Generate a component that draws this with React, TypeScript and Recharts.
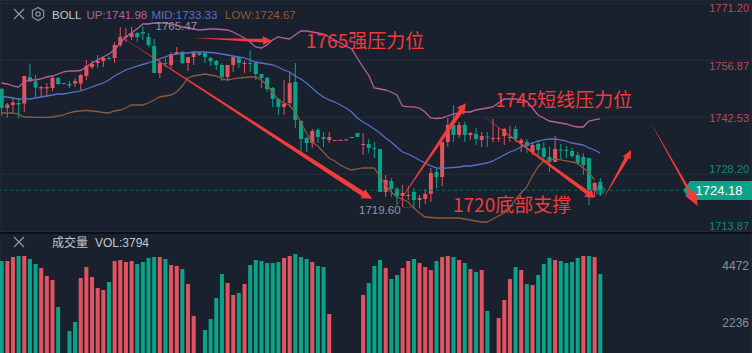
import { Bar, CartesianGrid, ComposedChart, Line, ReferenceDot, ReferenceLine, XAxis, YAxis } from "recharts";

// candles, oldest first (red = up, green = down)
const opens = [
  1749.65, 1744.87, 1745.63, 1746.13, 1746.0, 1752.67, 1751.53, 1749.78, 1749.78, 1749.9,
  1752.42, 1751.16, 1750.91, 1751.03, 1751.03, 1752.92, 1755.18, 1756.19, 1756.69, 1757.45,
  1757.45, 1760.71, 1762.73, 1762.73, 1763.73, 1763.98, 1762.73, 1760.46, 1753.67, 1756.19,
  1755.69, 1758.45, 1758.95, 1756.19, 1757.7, 1758.7, 1758.7, 1757.45, 1756.69, 1755.69,
  1752.67, 1755.69, 1757.7, 1756.01, 1756.19, 1756.19, 1753.42, 1752.42, 1749.9, 1747.14,
  1745.13, 1746.13, 1751.41, 1741.6, 1737.33, 1736.07, 1739.34, 1737.58, 1736.83, 1736.7,
  1736.73, 1736.83, 1737.45, 1738.59, 1735.65, 1735.82, 1734.82, 1734.56, 1723.75, 1726.52,
  1724.51, 1722.75, 1722.75, 1723.75, 1721.74, 1721.99, 1723.25, 1728.78, 1727.52, 1736.32,
  1740.6, 1738.08, 1740.6, 1738.08, 1738.34, 1736.83, 1737.7, 1737.08, 1737.2, 1737.83,
  1737.33, 1739.59, 1736.07, 1736.32, 1733.81, 1735.82, 1734.82, 1732.55, 1731.29, 1734.44,
  1734.31, 1734.06, 1733.06, 1732.55, 1732.3, 1724.0, 1726.27,
];
const highs = [
  1749.9, 1746.13, 1747.64, 1747.39, 1752.92, 1756.06, 1753.17, 1750.41, 1751.16, 1752.92,
  1752.67, 1751.16, 1751.66, 1752.42, 1753.42, 1756.94, 1756.69, 1758.2, 1757.7, 1757.82,
  1761.47, 1765.24, 1764.99, 1765.24, 1763.98, 1765.47, 1763.73, 1762.22, 1756.94, 1757.45,
  1758.95, 1760.21, 1759.2, 1757.7, 1758.95, 1758.95, 1758.95, 1757.7, 1756.94, 1756.19,
  1755.69, 1757.7, 1757.7, 1756.77, 1759.46, 1756.44, 1753.42, 1752.67, 1750.15, 1747.39,
  1751.91, 1753.93, 1756.19, 1741.86, 1737.58, 1739.59, 1739.84, 1738.84, 1738.84, 1736.83,
  1736.86, 1736.95, 1737.58, 1738.59, 1738.59, 1737.08, 1736.32, 1734.56, 1728.03, 1727.27,
  1725.01, 1725.51, 1725.26, 1724.76, 1723.0, 1724.51, 1729.79, 1729.79, 1736.32, 1742.36,
  1745.63, 1741.35, 1741.35, 1738.84, 1739.84, 1738.84, 1738.84, 1742.11, 1739.84, 1739.84,
  1740.35, 1740.35, 1737.33, 1737.08, 1736.32, 1736.83, 1736.32, 1735.07, 1737.83, 1735.82,
  1735.32, 1734.82, 1733.81, 1733.56, 1732.3, 1726.27, 1727.27,
];
const lows = [
  1742.86, 1742.49, 1743.62, 1742.36, 1743.87, 1751.41, 1747.64, 1747.64, 1747.64, 1749.15,
  1750.66, 1750.78, 1749.9, 1750.15, 1749.4, 1751.91, 1754.68, 1754.93, 1755.18, 1757.07,
  1756.19, 1760.21, 1761.47, 1761.97, 1761.47, 1761.97, 1760.21, 1753.67, 1752.42, 1755.18,
  1754.93, 1758.2, 1755.94, 1754.18, 1755.69, 1757.95, 1756.19, 1755.43, 1754.43, 1751.66,
  1751.66, 1753.93, 1754.93, 1753.67, 1753.93, 1751.91, 1749.9, 1748.9, 1745.13, 1743.12,
  1743.12, 1745.13, 1739.84, 1733.81, 1733.81, 1734.82, 1736.07, 1735.07, 1736.07, 1736.7,
  1736.73, 1736.83, 1737.45, 1737.58, 1733.06, 1733.56, 1732.3, 1723.75, 1722.5, 1722.5,
  1720.48, 1719.98, 1721.74, 1719.48, 1719.6, 1720.74, 1721.24, 1724.76, 1725.26, 1735.07,
  1736.32, 1737.33, 1736.32, 1736.83, 1735.57, 1735.07, 1735.07, 1736.32, 1736.32, 1735.57,
  1736.32, 1736.32, 1733.81, 1733.56, 1733.06, 1732.55, 1731.8, 1728.78, 1731.29, 1732.05,
  1732.3, 1732.3, 1730.54, 1728.03, 1720.48, 1722.5, 1722.75,
];
const closes = [
  1744.87, 1745.75, 1746.26, 1745.75, 1752.92, 1751.53, 1750.03, 1750.15, 1750.15, 1752.42,
  1750.91, 1750.91, 1750.53, 1751.66, 1753.17, 1755.43, 1755.94, 1756.69, 1757.45, 1757.27,
  1760.71, 1762.73, 1762.98, 1763.73, 1762.73, 1763.6, 1760.71, 1753.67, 1756.19, 1755.94,
  1758.45, 1758.95, 1756.19, 1757.7, 1758.7, 1758.2, 1757.7, 1756.69, 1755.69, 1752.67,
  1755.69, 1757.7, 1756.19, 1756.19, 1756.06, 1753.42, 1752.42, 1749.65, 1747.14, 1745.13,
  1745.88, 1751.16, 1741.86, 1737.08, 1736.07, 1739.09, 1737.58, 1737.08, 1737.58, 1736.83,
  1736.86, 1736.95, 1737.58, 1737.58, 1735.82, 1734.82, 1734.56, 1723.75, 1726.77, 1724.51,
  1722.75, 1723.5, 1723.0, 1721.74, 1722.24, 1723.25, 1728.53, 1727.52, 1736.32, 1740.6,
  1738.08, 1740.6, 1738.08, 1738.59, 1737.08, 1737.83, 1737.45, 1737.33, 1737.33, 1739.59,
  1737.58, 1737.08, 1736.83, 1735.32, 1735.57, 1734.31, 1732.55, 1731.29, 1734.56, 1734.19,
  1734.06, 1732.8, 1731.04, 1730.54, 1724.26, 1726.02, 1724.18,
];

const bollUp = [
  1751.16, 1750.91, 1750.41, 1750.15, 1751.41, 1751.91, 1751.91, 1752.17, 1752.67, 1752.92,
  1753.42, 1753.93, 1754.18, 1754.18, 1754.3, 1755.18, 1756.19, 1756.94, 1757.7, 1758.45,
  1759.46, 1761.22, 1762.73, 1763.73, 1764.74, 1766.0, 1766.0, 1766.25, 1766.25, 1766.25,
  1766.0, 1765.74, 1765.24, 1764.99, 1764.74, 1764.49, 1764.61, 1764.74, 1764.74, 1764.61,
  1764.49, 1763.98, 1763.23, 1762.47, 1761.47, 1760.21, 1759.96, 1760.71, 1761.97, 1762.73,
  1762.47, 1762.22, 1763.23, 1764.23, 1764.23, 1763.98, 1763.73, 1763.48, 1762.73, 1761.97,
  1761.22, 1760.46, 1759.71, 1757.45, 1755.18, 1753.17, 1749.9, 1749.65, 1749.4, 1748.9,
  1748.14, 1745.38, 1745.13, 1745.13, 1744.87, 1743.87, 1742.36, 1742.23, 1742.36, 1742.86,
  1743.36, 1743.62, 1743.87, 1743.87, 1744.37, 1744.62, 1744.87, 1745.13, 1746.13, 1747.14,
  1747.14, 1747.14, 1746.89, 1746.63, 1744.87, 1743.12, 1742.36, 1741.6, 1741.35, 1741.1,
  1740.85, 1740.35, 1740.1, 1740.1, 1741.6, 1741.86, 1742.11,
];
const bollMid = [
  1747.64, 1747.64, 1747.39, 1747.14, 1747.14, 1747.14, 1747.39, 1747.64, 1747.89, 1748.14,
  1748.39, 1748.39, 1748.65, 1748.9, 1749.15, 1749.65, 1750.15, 1750.66, 1751.16, 1751.91,
  1752.92, 1753.67, 1754.43, 1754.93, 1755.43, 1755.81, 1756.19, 1756.69, 1757.2, 1757.7,
  1758.2, 1758.45, 1758.7, 1758.7, 1758.95, 1758.95, 1758.95, 1758.83, 1758.7, 1758.45,
  1758.2, 1757.95, 1757.7, 1757.45, 1756.94, 1756.44, 1756.19, 1755.94, 1755.69, 1755.18,
  1754.43, 1753.93, 1752.92, 1752.17, 1751.16, 1749.9, 1748.65, 1747.64, 1746.89, 1746.38,
  1745.63, 1744.87, 1743.87, 1742.36, 1741.35, 1740.6, 1739.59, 1738.59, 1737.33, 1736.32,
  1735.07, 1733.81, 1733.31, 1732.55, 1731.8, 1731.04, 1730.29, 1729.79, 1729.66, 1729.79,
  1729.91, 1730.04, 1730.29, 1730.29, 1730.54, 1730.79, 1731.04, 1731.55, 1732.3, 1733.06,
  1733.81, 1734.31, 1735.07, 1735.57, 1736.07, 1736.57, 1736.83, 1737.08, 1737.08, 1736.83,
  1736.57, 1736.07, 1735.82, 1735.57, 1734.82, 1734.31, 1733.56,
];
const bollLow = [
  1743.62, 1743.62, 1743.62, 1743.36, 1742.61, 1742.61, 1742.49, 1742.49, 1742.49, 1742.61,
  1742.86, 1743.12, 1743.62, 1743.99, 1744.12, 1744.25, 1744.12, 1743.99, 1743.74, 1743.62,
  1744.12, 1744.37, 1744.87, 1745.63, 1745.63, 1745.63, 1746.13, 1746.89, 1747.64, 1747.89,
  1748.14, 1748.9, 1750.41, 1752.42, 1752.92, 1753.17, 1753.42, 1753.17, 1752.92, 1752.17,
  1751.91, 1752.17, 1752.42, 1752.54, 1752.67, 1752.67, 1751.91, 1750.66, 1748.9, 1746.89,
  1746.13, 1745.63, 1743.87, 1741.35, 1738.59, 1736.32, 1735.32, 1733.81, 1732.3, 1731.55,
  1730.54, 1729.79, 1729.28, 1729.54, 1729.79, 1729.79, 1729.79, 1727.77, 1725.51, 1723.75,
  1722.5, 1721.99, 1721.24, 1719.73, 1718.47, 1717.46, 1717.34, 1717.21, 1717.21, 1717.21,
  1717.21, 1717.21, 1716.96, 1716.71, 1716.46, 1716.21, 1716.21, 1716.96, 1717.72, 1718.47,
  1719.73, 1721.74, 1723.5, 1725.01, 1727.77, 1730.04, 1731.55, 1731.8, 1732.05, 1731.8,
  1731.55, 1731.29, 1731.04, 1729.79, 1728.78, 1726.77, null,
];

const volumes = [
  4629, 4629, 4786, 4825, 4825, 4708, 4511, 4355, 4041, 3884,
  2825, 900, 1883, 2236, 3962, 4394, 4001, 3570, 3491, 3805,
  4629, 4668, 4590, 4629, 4511, 4590, 4747, 4786, 4786, 4708,
  4472, 4433, 4315, 3727, 2471, 860, 1922, 2354, 3178, 4119,
  3766, 3295, 3374, 3727, 4472, 4668, 4629, 4551, 4551, 4590,
  4747, 4825, 4904, 4786, 4708, 4590, 4433, 4394, 2550, 620,
  480, 540, 710, 940, 3295, 3766, 4433, 4668, 4355, 3923,
  4080, 4355, 4629, 4708, 4551, 4394, 4276, 4629, 4786, 4825,
  4786, 4668, 4551, 4315, 4198, 4276, 2668, 880, 2393, 3099,
  3923, 4394, 4276, 3727, 3688, 4080, 4511, 4747, 4668, 4629,
  4551, 4590, 4747, 4825, 4825, 4786, 4119,
];
const volumeUp = [
  0, 1, 1, 0, 1, 0, 0, 1, 1, 1,
  0, 0, 0, 0, 1, 1, 1, 1, 1, 0,
  1, 1, 1, 1, 0, 0, 0, 0, 1, 0,
  1, 1, 0, 1, 1, 0, 0, 0, 0, 0,
  1, 1, 0, 1, 0, 0, 0, 0, 0, 0,
  1, 1, 0, 0, 0, 1, 0, 0, 1, 1,
  1, 1, 1, 0, 1, 0, 0, 0, 1, 0,
  0, 1, 1, 0, 1, 1, 1, 0, 1, 1,
  0, 1, 0, 1, 0, 1, 0, 1, 1, 1,
  1, 0, 1, 0, 1, 0, 0, 0, 1, 0,
  0, 0, 0, 1, 0, 1, 0,
];

const priceTicks = [1771.2, 1756.87, 1742.53, 1728.2, 1713.87];
const priceTickDy: Record<number, number> = { 1771.2: 5, 1756.87: 6, 1742.53: 1, 1728.2: -5, 1713.87: -5 };
const volumeTicks = [2236, 4472];
const timeTicks = [24, 59, 93.8];
const lastPrice = 1724.18;

const candles = opens.map((open, i) => ({
  i,
  open,
  close: closes[i],
  high: highs[i],
  low: lows[i],
  up: bollUp[i],
  mid: bollMid[i],
  down: bollLow[i],
  volume: volumes[i],
  volUp: volumeUp[i],
}));

const RED = "#e2535f";
const GREEN = "#0aa388";
const GRID = "#252d3a";
const BG = "#1a212e";
const MARK = "#f23a3a";
const CJK = "'Noto Sans CJK SC', sans-serif";
const LATIN = "'Liberation Sans', Arial, sans-serif";

// x domain is chosen so the candles sit 5.646px apart, the first one at x=1.5
// the y axes need 1px of width or recharts skips their ticks
const xDomain = [-0.266, 132.72];

function Candle(props: any) {
  const { x, y, width, height, payload } = props;
  const { open, close, high, low } = payload;
  const k = height / (high - low || 1);
  const color = close >= open ? RED : GREEN;
  const top = y + (high - Math.max(open, close)) * k;
  const h = Math.max(Math.abs(open - close) * k, 1);
  return (
    <g>
      <line x1={x + width / 2} x2={x + width / 2} y1={y} y2={y + height} stroke={color} strokeWidth={1} />
      <rect x={x} y={top} width={width} height={h} fill={color} />
    </g>
  );
}

function VolumeBar(props: any) {
  const { x, y, width, height, payload } = props;
  return <rect x={x} y={y} width={width} height={height} fill={payload.volUp ? RED : GREEN} />;
}

function PriceTick(props: any) {
  const { y, payload } = props;
  const color = payload.value > lastPrice + 10 ? "#b84a58" : "#0d8a76";
  return (
    <text x={749} y={y + (priceTickDy[payload.value] ?? 0) + 4} textAnchor="end" fontSize={11} fontFamily={LATIN} fill={color}>
      {payload.value.toFixed(2)}
    </text>
  );
}

function VolumeTick(props: any) {
  const { y, payload } = props;
  return (
    <text x={749} y={y + 5} textAnchor="end" fontSize={12} fontFamily={LATIN} fill="#8a8f99">
      {payload.value}
    </text>
  );
}

type Pt = [number, number];
// hand-drawn annotation arrows on the screenshot: tail, tip, head corners
const arrows: { from: Pt; tip: Pt; a: Pt; b: Pt; w: number }[] = [
  { from: [111.5, 30.5], tip: [372.3, 198.7], a: [365, 189.3], b: [360.7, 198.3], w: 2.5 },
  { from: [193, 38], tip: [271.7, 40.5], a: [262.7, 36.2], b: [263.3, 45], w: 1.8 },
  { from: [395, 208], tip: [466, 103.3], a: [457.3, 107.3], b: [464, 115], w: 2.3 },
  { from: [481.7, 115], tip: [594.3, 197.7], a: [584, 196.7], b: [591.7, 189.3], w: 2 },
  { from: [603.3, 199], tip: [631, 150], a: [622.7, 156.7], b: [630.7, 159.3], w: 2 },
  { from: [649.3, 120], tip: [697.7, 206], a: [685.2, 195.8], b: [695.6, 190], w: 1.4 },
];

function Arrow({ from, tip, a, b, w }: { from: Pt; tip: Pt; a: Pt; b: Pt; w: number }) {
  const cx = (a[0] + b[0]) / 2;
  const cy = (a[1] + b[1]) / 2;
  const len = Math.hypot(a[0] - b[0], a[1] - b[1]) || 1;
  const ux = (b[0] - a[0]) / len;
  const uy = (b[1] - a[1]) / len;
  const pts = [
    from,
    [cx - ux * w, cy - uy * w],
    a,
    tip,
    b,
    [cx + ux * w, cy + uy * w],
  ];
  return <polygon points={pts.map((p) => p.join(",")).join(" ")} fill="#f53a3a" />;
}

function Cross({ x, y }: { x: number; y: number }) {
  return (
    <path
      d={`M${x - 5} ${y - 5}L${x + 5} ${y + 5}M${x + 5} ${y - 5}L${x - 5} ${y + 5}`}
      stroke="#8d929b"
      strokeWidth={1.3}
      fill="none"
    />
  );
}

export default function App() {
  return (
    <div style={{ position: "fixed", left: 0, top: 0, width: 752, height: 353, overflow: "hidden", background: BG }}>
      {/* PRICE PANEL */}
      <div style={{ position: "absolute", left: 0, top: 0 }}>
        <ComposedChart width={752} height={232} data={candles} margin={{ top: 0, right: 0, bottom: 0, left: 0 }}>
          <CartesianGrid stroke={GRID} strokeWidth={1} />
          <XAxis
            dataKey="i"
            type="number"
            domain={xDomain}
            ticks={timeTicks}
            allowDataOverflow
            tick={false}
            tickLine={false}
            axisLine={false}
            height={0}
          />
          <YAxis
            orientation="right"
            width={1}
            domain={[1713.69, 1772.03]}
            ticks={priceTicks}
            allowDataOverflow
            interval={0}
            tick={PriceTick}
            tickLine={false}
            axisLine={false}
            tickMargin={0}
            tickSize={0}
          />
          <ReferenceLine y={lastPrice} stroke="#11655c" strokeDasharray="3 3" />
          <Bar dataKey={(d: any) => [d.low, d.high]} barSize={4} shape={Candle} isAnimationActive={false} />
          <Line dataKey="up" stroke="#b4609f" strokeWidth={1.3} dot={false} isAnimationActive={false} />
          <Line dataKey="mid" stroke="#5570c8" strokeWidth={1.3} dot={false} isAnimationActive={false} />
          <Line dataKey="down" stroke="#8a5a3c" strokeWidth={1.3} dot={false} isAnimationActive={false} />
          <ReferenceDot x={106} y={lastPrice} r={5} fill="#19c7ad" fillOpacity={0.35} stroke="none" />
        </ComposedChart>
      </div>

      {/* VOLUME PANEL (its lower part runs off the page) */}
      <div style={{ position: "absolute", left: 0, top: 234 }}>
        <ComposedChart width={752} height={145} data={candles} margin={{ top: 0, right: 0, bottom: 0, left: 0 }}>
          <CartesianGrid stroke={GRID} strokeWidth={1} horizontal={false} />
          <XAxis
            dataKey="i"
            type="number"
            domain={xDomain}
            ticks={timeTicks}
            allowDataOverflow
            tick={false}
            tickLine={false}
            axisLine={false}
            height={0}
          />
          <YAxis
            orientation="right"
            width={1}
            domain={[0, 5688]}
            ticks={volumeTicks}
            interval={0}
            tick={VolumeTick}
            tickLine={false}
            axisLine={false}
            tickMargin={0}
            tickSize={0}
          />
          <Bar dataKey="volume" barSize={4} shape={VolumeBar} isAnimationActive={false} />
        </ComposedChart>
      </div>

      {/* panel divider */}
      <div style={{ position: "absolute", left: 0, top: 232, width: 752, height: 1.5, background: "#0b0f15" }} />

      {/* HEADER, LABELS, ANNOTATIONS */}
      <svg width={752} height={353} style={{ position: "absolute", left: 0, top: 0 }}>
        <Cross x={19} y={14} />
        <polygon points="38,7.5 43.6,10.7 43.6,17.2 38,20.5 32.4,17.2 32.4,10.7" fill="none" stroke="#8d929b" strokeWidth={1.2} />
        <circle cx={38} cy={14} r={2.2} fill="none" stroke="#8d929b" strokeWidth={1.2} />

        <g fontFamily={LATIN} fontSize={11.5}>
          <text x={52} y={18.5} fill="#c3c6cb">BOLL</text>
          <text x={86.5} y={18.5} fill="#b4609f">UP:1741.98</text>
          <text x={151.5} y={18.5} fill="#5570c8">MID:1733.33</text>
          <text x={225} y={18.5} fill="#8a5a3c">LOW:1724.67</text>
          <text x={155.5} y={29.5} fill="#92969e">1765.47</text>
          <text x={146} y={26} fill="#92969e" fontSize={8}>····</text>
          <text x={359} y={213.5} fill="#92969e">1719.60</text>
          <text x={403} y={210} fill="#92969e" fontSize={8}>···</text>
        </g>

        <Cross x={19} y={242} />
        <text x={52} y={246.5} fontFamily={CJK} fontSize={12} fill="#c3c6cb">成交量</text>
        <text x={95} y={246.5} fontFamily={LATIN} fontSize={12} fill="#c3c6cb">VOL:3794</text>

        <polygon points="683.3,190.3 690,181 752,181 752,200 690,200" fill={GREEN} />
        <text x={695.5} y={195} fontFamily={LATIN} fontSize={13} fill="#ffffff">1724.18</text>

        {arrows.map((a, i) => (
          <Arrow key={i} {...a} />
        ))}

        <g fontFamily={CJK} fontSize={19} fill={MARK}>
          <text x={306} y={48}>1765强压力位</text>
          <text x={495} y={106.5}>1745短线压力位</text>
          <text x={453} y={211.5}>1720底部支撑</text>
        </g>
      </svg>
    </div>
  );
}
